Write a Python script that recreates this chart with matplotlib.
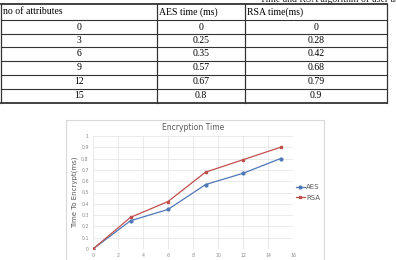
import matplotlib.pyplot as plt
from matplotlib.patches import Rectangle

attributes = [0, 3, 6, 9, 12, 15]
aes_time = [0, 0.25, 0.35, 0.57, 0.67, 0.8]
rsa_time = [0, 0.28, 0.42, 0.68, 0.79, 0.9]
aes_labels = ["0", "0.25", "0.35", "0.57", "0.67", "0.8"]
rsa_labels = ["0", "0.28", "0.42", "0.68", "0.79", "0.9"]
headers = ["no of attributes", "AES time (ms)", "RSA time(ms)"]

W, H = 396, 260
fig = plt.figure(figsize=(W / 100, H / 100), dpi=100)
fig.patch.set_facecolor("white")

# page layer in pixel coords
page = fig.add_axes([0, 0, 1, 1])
page.set_xlim(0, W)
page.set_ylim(H, 0)
page.axis("off")

serif = "Liberation Serif"
fs = 7
page.text(260, -1, "Time and RSA algorithm of user attributes in", fontsize=fs,
          family=serif, va="center", ha="left", color="#222222")

# table
col_x = [1, 157, 245, 387]
row_y = [4, 20, 34, 47, 61, 75, 89, 103]
lc = "#333333"
for y in row_y:
    lw = 1.3 if y in (row_y[0], row_y[-1]) else 0.8
    page.plot([col_x[0], col_x[-1]], [y, y], color=lc, lw=lw)
for x in col_x:
    page.plot([x, x], [row_y[0], row_y[-1]], color=lc, lw=0.9)

for j, h in enumerate(headers):
    page.text(col_x[j] + 2, (row_y[0] + row_y[1]) / 2, h, fontsize=fs,
              family=serif, va="center")
for i, (a, e, r) in enumerate(zip(attributes, aes_labels, rsa_labels)):
    yc = (row_y[i + 1] + row_y[i + 2]) / 2
    page.text((col_x[0] + col_x[1]) / 2, yc, str(a), fontsize=fs, family=serif,
              ha="center", va="center")
    page.text((col_x[1] + col_x[2]) / 2, yc, e, fontsize=fs, family=serif,
              ha="center", va="center")
    page.text((col_x[2] + col_x[3]) / 2, yc, r, fontsize=fs, family=serif,
              ha="center", va="center")

# chart frame
page.add_patch(Rectangle((66, 120), 258, 145, fill=False, ec="#d9d9d9", lw=0.8))

# chart
l, r, t, b = 93, 293, 136, 249
ax = fig.add_axes([l / W, 1 - b / H, (r - l) / W, (b - t) / H])
aes_c = "#4f78b8"
rsa_c = "#c0504d"
ax.plot(attributes, aes_time, color=aes_c, lw=0.9, marker="o", ms=2, label="AES")
ax.plot(attributes, rsa_time, color=rsa_c, lw=0.9, marker="s", ms=2, label="RSA")
ax.set_xlim(0, 16)
ax.set_ylim(0, 1)
ax.set_xticks(range(0, 17, 2))
ax.set_yticks([i / 10 for i in range(11)])
ax.set_yticklabels(["0", "0.1", "0.2", "0.3", "0.4", "0.5", "0.6", "0.7", "0.8", "0.9", "1"])
ax.tick_params(labelsize=3.4, colors="#8c8c8c", length=0, pad=3)
ax.grid(True, color="#e6e6e6", lw=0.6)
ax.set_axisbelow(True)
for s in ax.spines.values():
    s.set_visible(False)
ax.axhline(0, color="#d0d0d0", lw=0.6, zorder=0)
ax.set_title("Encryption Time", fontsize=5.5, color="#595959", pad=4)
ax.set_ylabel("Time To Encrypt(ms)", fontsize=5, color="#595959", labelpad=2)
ax.set_xlabel("No of Attributes", fontsize=6.5, color="#404040", labelpad=1)
ax.legend(loc="center left", bbox_to_anchor=(1.0, 0.5), frameon=False, fontsize=5,
          handlelength=1.3, handletextpad=0.2, labelspacing=0.6,
          labelcolor="#595959", borderaxespad=0.0)

fig.savefig("out.png", dpi=100, facecolor="white")
